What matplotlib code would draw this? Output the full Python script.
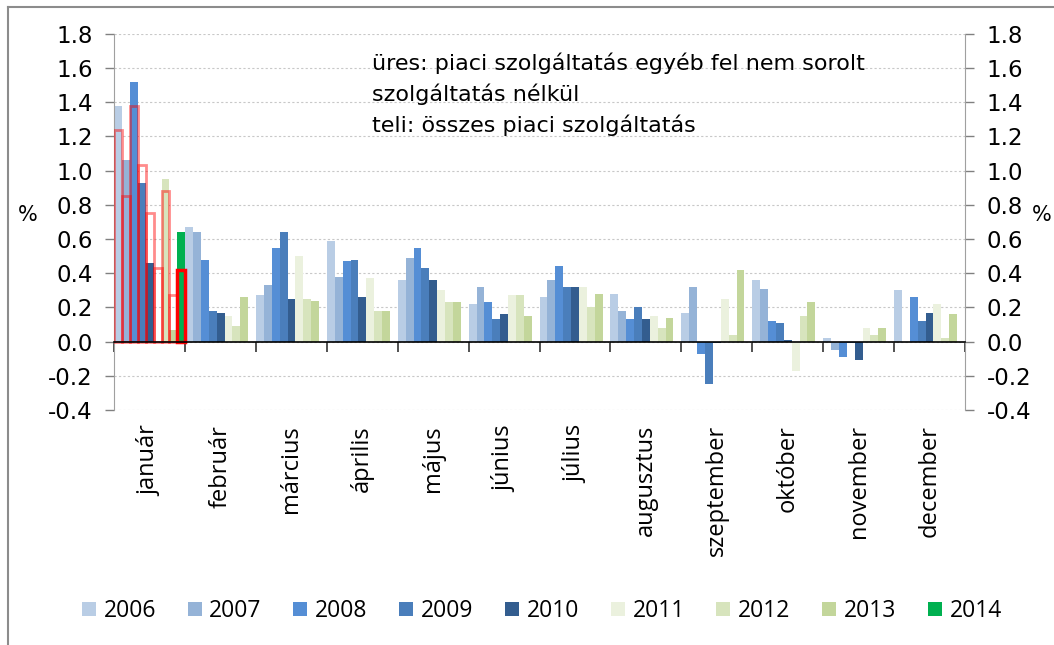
import numpy as np
import matplotlib.pyplot as plt
from matplotlib.lines import Line2D
from matplotlib.patches import Patch
from matplotlib.transforms import blended_transform_factory

months = ['január', 'február', 'március', 'április', 'május', 'június',
          'július', 'augusztus', 'szeptember', 'október', 'november', 'december']
years = ['2006', '2007', '2008', '2009', '2010', '2011', '2012', '2013', '2014']

nan = np.nan
# teli: összes piaci szolgáltatás (havi változás, %)
v2006 = [1.38, 0.67, 0.27, 0.59, 0.36, 0.22, 0.26, 0.28, 0.17, 0.36, 0.02, 0.30]
v2007 = [1.06, 0.64, 0.33, 0.38, 0.49, 0.32, 0.36, 0.18, 0.32, 0.31, -0.05, nan]
v2008 = [1.52, 0.48, 0.55, 0.47, 0.55, 0.23, 0.44, 0.13, -0.07, 0.12, -0.09, 0.26]
v2009 = [0.93, 0.18, 0.64, 0.48, 0.43, 0.13, 0.32, 0.20, -0.25, 0.11, -0.01, 0.12]
v2010 = [0.46, 0.17, 0.25, 0.26, 0.36, 0.16, 0.32, 0.13, -0.01, 0.01, -0.11, 0.17]
v2011 = [nan, 0.15, 0.50, 0.37, 0.30, 0.27, 0.32, 0.15, 0.25, -0.17, 0.08, 0.22]
v2012 = [0.95, 0.09, 0.25, 0.18, 0.23, 0.27, 0.20, 0.08, 0.04, 0.15, 0.04, 0.02]
v2013 = [0.07, 0.26, 0.24, 0.18, 0.23, 0.15, 0.28, 0.14, 0.42, 0.23, 0.08, 0.16]
v2014 = [0.64, nan, nan, nan, nan, nan, nan, nan, nan, nan, nan, nan]
values = [v2006, v2007, v2008, v2009, v2010, v2011, v2012, v2013, v2014]

# üres: egyéb fel nem sorolt szolgáltatás nélkül, csak január
ures_jan = [1.24, 0.85, 1.38, 1.03, 0.75, 0.43, 0.88, 0.27, 0.42]

colors = ['#B9CDE5', '#95B3D7', '#558ED5', '#4A7EBB', '#335D8F',
          '#EBF1DE', '#D7E4BD', '#C3D69B', '#00B050']

fig = plt.figure(figsize=(10.54, 6.45), dpi=100)
ax = fig.add_axes([0.1084, 0.3643, 0.8071, 0.5834])

n = len(years)
w = 1.0 / n
x = np.arange(len(months))
for k in range(n):
    ax.bar(x + (k + 0.5) * w, values[k], width=w, color=colors[k],
           edgecolor='none', zorder=2)

# hollow bars for January
xj = (np.arange(n) + 0.5) * w
ax.bar(xj[:-1], ures_jan[:-1], width=w, fill=False,
       edgecolor=(1, 0, 0, 0.45), linewidth=2, zorder=3)
ax.bar(xj[-1:], ures_jan[-1:], width=w, fill=False,
       edgecolor='#FF0000', linewidth=2.5, zorder=4)

ax.set_xlim(0, 12)
ax.set_ylim(-0.4, 1.8)
yt = np.arange(-0.4, 1.81, 0.2)
ax.set_yticks(yt)
ax.set_yticklabels([f'{v:.1f}' for v in yt])
ax.yaxis.grid(True, color='#C8C8C8', linestyle=(0, (2, 2)), linewidth=0.8, zorder=0)
ax.set_axisbelow(True)

ax.spines['top'].set_visible(False)
ax.spines['left'].set_color('#A0A0A0')
ax.spines['right'].set_color('#A0A0A0')
ax.spines['bottom'].set_position(('data', 0))
ax.spines['bottom'].set_color('black')
ax.spines['bottom'].set_linewidth(1.2)
ax.spines['bottom'].set_zorder(5)

ax.set_xticks(np.arange(0, 13))
ax.tick_params(axis='x', length=7, width=1.2, direction='out', labelbottom=False,
               color='#333333')
ax.tick_params(axis='y', left=True, right=True, labelleft=True, labelright=True,
               length=6.5, width=1, color='#808080', labelsize=16.5, pad=9)

trans = blended_transform_factory(ax.transData, ax.transAxes)
for i, m in enumerate(months):
    ax.text(i + 0.5, -0.04, m, transform=trans, rotation=90, ha='center', va='top',
            fontsize=17, family='Open Sans')

fig.text(0.0266, 0.6667, '%', fontsize=15, ha='center', va='center')
fig.text(0.9880, 0.6667, '%', fontsize=15, ha='center', va='center')

fig.text(0.3527, 0.8915, 'üres: piaci szolgáltatás egyéb fel nem sorolt',
         fontsize=16, va='baseline')
fig.text(0.3527, 0.8434, 'szolgáltatás nélkül', fontsize=16, va='baseline')
fig.text(0.3527, 0.7953, 'teli: összes piaci szolgáltatás', fontsize=16, va='baseline')

handles = [Patch(facecolor=c, edgecolor='none') for c in colors]
fig.legend(handles, years, loc='center', bbox_to_anchor=(0.514, 0.0527), ncol=n,
           frameon=False, prop={'family': 'Open Sans', 'size': 16.5},
           handlelength=0.61, handleheight=0.61, handletextpad=0.34,
           columnspacing=1.38)

# chart area border (left and top only visible)
fig.add_artist(Line2D([8 / 1054, 8 / 1054], [0, 1 - 7 / 645], color='#8C8C8C', lw=1.5))
fig.add_artist(Line2D([8 / 1054, 1], [1 - 7 / 645, 1 - 7 / 645], color='#8C8C8C', lw=1.5))

fig.savefig('out.png', dpi=100)
